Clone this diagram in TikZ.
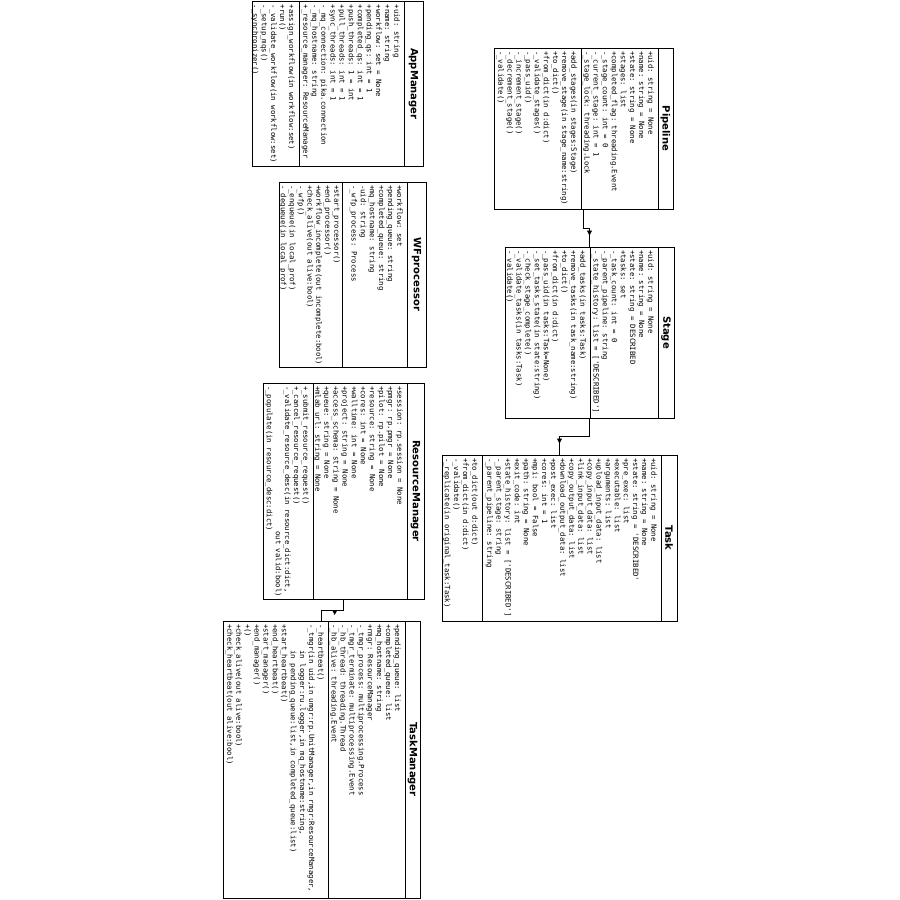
\documentclass[tikz,border=0pt]{standalone}
\usepackage{fontspec}
\setsansfont{DejaVu Sans}
\setmonofont{DejaVu Sans Mono}
\usetikzlibrary{arrows.meta}
\usetikzlibrary{calc}
\newcommand{\colpad}[1]{\hspace*{#1\fontcharwd\font`x}}
\tikzset{
  classbox/.style={draw, line width=1pt, inner sep=0pt},
  classline/.style={line width=1pt},
  classtitle/.style={rotate=-90, inner sep=0pt, font=\sffamily\bfseries\fontsize{10}{12}\selectfont},
  members/.style={rotate=-90, anchor=north west, align=left, inner sep=0pt, font=\ttfamily\fontsize{7.3}{9.1}\selectfont},
  assoc/.style={line width=0.8pt},
  assochead/.style={-{Triangle[length=5pt,width=5pt]}, line width=0.8pt},
}
\begin{document}
\begin{tikzpicture}[x=1pt, y=-1pt]
    \fill[white] (0,0) rectangle (900,900);
    \useasboundingbox (0,0) rectangle (900,900);
    % AppManager
    \node[classbox, minimum width=171pt, minimum height=164.5pt] (appmgr) at (337.5,83.75) {};
    \draw[classline] (404,1.5) -- (404,166);
    \draw[classline] (299,1.5) -- (299,166);
    \node[classtitle] (appmgr-title) at (413.5,83.75) {AppManager};
    \node[members] (appmgr-attr) at (400,4.5) {+uid: string\\+name: string\\+workflow: set = None\\+pending\_qs: int = 1\\+completed\_qs: int = 1\\+push\_threads: 1 = int\\+pull\_threads: int = 1\\+sync\_threads: int = 1\\-\_mq\_connection: pika.connection\\-\_mq\_hostname: string\\+\_resource\_manager: ResourceManager};
    \node[members] (appmgr-ops) at (295,4.5) {+assign\_workflow(in workflow:set)\\+run()\\-\_validate\_workflow(in workflow:set)\\-\_setup\_mqs()\\-\_synchronizer()};
    % WFprocessor
    \node[classbox, minimum width=147pt, minimum height=185pt] (wfp) at (352.5,274.5) {};
    \draw[classline] (407,182) -- (407,367);
    \draw[classline] (342,182) -- (342,367);
    \node[classtitle] (wfp-title) at (416.5,274.5) {WFprocessor};
    \node[members] (wfp-attr) at (403,185) {+workflow: set\\+pending\_queue: string\\+completed\_queue: string\\+mq\_hostname: string\\-uid: string\\-\_wfp\_process: Process};
    \node[members, font=\ttfamily\fontsize{7.3}{8.9}\selectfont] (wfp-ops) at (340,185) {+start\_processor()\\+end\_processor()\\+workflow\_incomplete(out incomplete:bool)\\+check\_alive(out alive:bool)\\-\_wfp()\\-\_enqueue(in local\_prof)\\-\_dequeue(in local\_prof)};
    % Pipeline
    \node[classbox, minimum width=179pt, minimum height=161pt] (pipeline) at (583.5,128.5) {};
    \draw[classline] (658,48) -- (658,209);
    \draw[classline] (581,48) -- (581,209);
    \node[classtitle] (pipeline-title) at (665.5,128.5) {Pipeline};
    \node[members] (pipeline-attr) at (654,51) {+uid: string = None\\+name: string = None\\+state: string = None\\+stages: list\\+completed\_flag: threading.Event\\-\_stage\_count: int = 0\\-\_current\_stage: int = 1\\-\_stage\_lock: threading.Lock};
    \node[members] (pipeline-ops) at (577,51) {+add\_stages(in stages:Stage)\\+remove\_stage(in stage\_name:string)\\+to\_dict()\\+from\_dict(in d:dict)\\-\_validate\_stages()\\-\_pass\_uid()\\-\_increment\_stage()\\-\_decrement\_stage()\\-\_validate()};
    % Stage
    \node[classbox, minimum width=169pt, minimum height=171pt] (stage) at (589.5,332.5) {};
    \draw[classline] (658,247) -- (658,418);
    \draw[classline] (590,247) -- (590,418);
    \node[classtitle] (stage-title) at (666,332.5) {Stage};
    \node[members] (stage-attr) at (654,250) {+uid: string = None\\+name: string = None\\+state: string = DESCRIBED\\+tasks: set\\-\_task\_count: int = 0\\-\_parent\_pipeline: string\\-\_state\_history: list = ['DESCRIBED']};
    \node[members] (stage-ops) at (586,250) {+add\_tasks(in tasks:Task)\\+remove\_tasks(in task\_name:string)\\+to\_dict()\\+from\_dict(in d:dict)\\-\_pass\_uid(in tasks:Task=None)\\-\_set\_tasks\_state(in state:string)\\-\_check\_stage\_complete()\\-\_validate\_tasks(in tasks:Task)\\-\_validate()};
    % Task
    \node[classbox, minimum width=235pt, minimum height=166pt] (task) at (559.5,538) {};
    \draw[classline] (661,455) -- (661,621);
    \draw[classline] (482,455) -- (482,621);
    \node[classtitle] (task-title) at (669,538) {Task};
    \node[members] (task-attr) at (657,458) {+uid: string = None\\+name: string = None\\+state: string = 'DESCRIBED'\\+pre\_exec: list\\+executable: list\\+arguments: list\\+upload\_input\_data: list\\+copy\_input\_data: list\\+link\_input\_data: list\\+copy\_output\_data: list\\+download\_output\_data: list\\+post\_exec: list\\+cores: int = 1\\+mpi: bool = False\\+path: string = None\\+exit\_code: int\\+state\_history: list = ['DESCRIBED']\\-\_parent\_stage: string\\-\_parent\_pipeline: string};
    \node[members] (task-ops) at (478,458) {+to\_dict(out d:dict)\\+from\_dict(in d:dict)\\-\_validate()\\-\_replicate(in original\_task:Task)};
    % ResourceManager
    \node[classbox, minimum width=161pt, minimum height=216pt] (rmgr) at (343.5,491) {};
    \draw[classline] (407,383) -- (407,599);
    \draw[classline] (313,383) -- (313,599);
    \node[classtitle] (rmgr-title) at (415.5,491) {ResourceManager};
    \node[members] (rmgr-attr) at (403,386) {+session: rp.session = None\\+pmgr: rp.pmgr = None\\+pilot: rp.pilot = None\\+resource: string = None\\+cores: int = None\\+walltime: int = None\\+project: string = None\\+access\_schema: string = None\\+queue: string = None\\+mlab\_url: string = None};
    \node[members] (rmgr-ops) at (309,386) {+\_submit\_resource\_request()\\+\_cancel\_resource\_request()\\-\_validate\_resource\_desc(in resource\_dict:dict,\\\colpad{33}out valid:bool)\\-\_populate(in resource\_desc:dict)};
    % TaskManager
    \node[classbox, minimum width=197pt, minimum height=277pt] (tmgr) at (321.5,759.5) {};
    \draw[classline] (405,621) -- (405,898);
    \draw[classline] (328,621) -- (328,898);
    \node[classtitle] (tmgr-title) at (412.5,759.5) {TaskManager};
    \node[members] (tmgr-attr) at (401,624) {+pending\_queue: list\\+completed\_queue: list\\+mq\_hostname: string\\+rmgr: ResourceManager\\-\_tmgr\_process: multiprocessing.Process\\-\_tmgr\_terminate: multiprocessing.Event\\-\_hb\_thread: threading.Thread\\-\_hb\_alive: threading.Event};
    \node[members] (tmgr-ops) at (324,624) {-\_heartbeat()\\-\_tmgr(in uid,in umgr:rp.UnitManager,in rmgr:ResourceManager,\\\colpad{6}in logger:ru.logger,in mq\_hostname:string,\\\colpad{6}in pending\_queue:list,in completed\_queue:list)\\+start\_heartbeat()\\+end\_heartbeat()\\+start\_manager()\\+end\_manager()\\+()\\+check\_alive(out alive:bool)\\+check\_heartbeat(out alive:bool)};
    % Associations
    \draw[assoc] (pipeline.south) -- ++(0,19) coordinate (pipeline-bend) -| (stage.north);
    \draw[assochead] (pipeline-bend -| stage.north) -- ++(0,7);
    \draw[assoc] (stage.south) -- ++(0,18) coordinate (stage-bend) -| (task.north);
    \draw[assochead] (stage-bend -| task.north) -- ++(0,7);
    \draw[assoc] (rmgr.south) -- ++(0,10.5) coordinate (rmgr-bend) -| (tmgr.north);
    \draw[assochead] ($(rmgr-bend)!0.4!(rmgr-bend -| tmgr.north)$) -- ++(0,5);
\end{tikzpicture}
\end{document}
